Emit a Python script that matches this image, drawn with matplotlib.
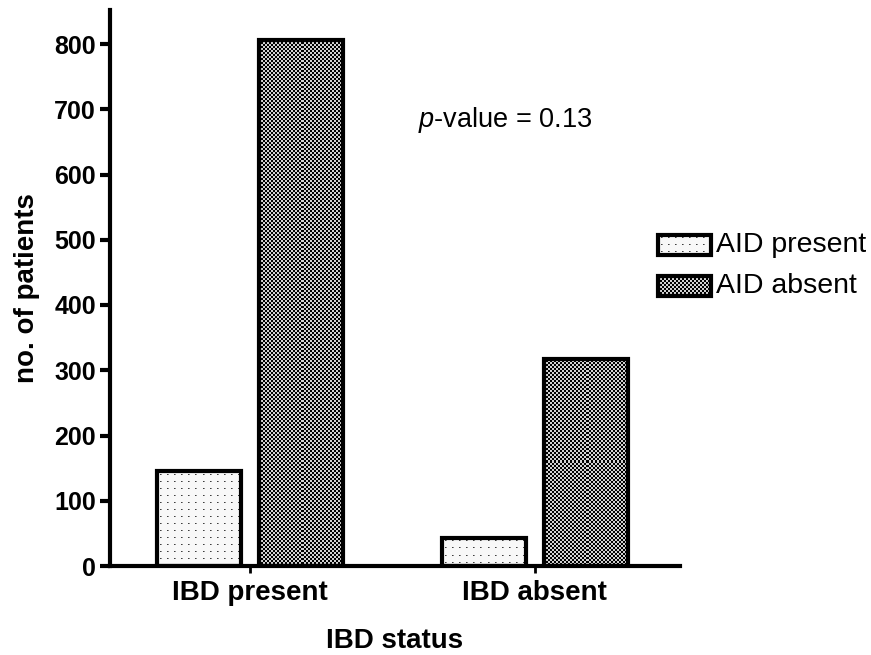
import numpy as np
import matplotlib
matplotlib.use("Agg")
import matplotlib.pyplot as plt
from matplotlib.patches import Rectangle

plt.rcParams['font.family'] = ['Liberation Sans', 'DejaVu Sans']
plt.rcParams['mathtext.fontset'] = 'custom'
plt.rcParams['mathtext.rm'] = 'Liberation Sans'
plt.rcParams['mathtext.it'] = 'Liberation Sans:italic'

# data
groups = ["IBD present", "IBD absent"]
series = ["AID present", "AID absent"]
aid_present = [145, 43]
aid_absent = [806, 318]
y_ticks = [0, 100, 200, 300, 400, 500, 600, 700, 800]
p_text = "$\\mathit{p}$-value = 0.13"

W, H, DPI = 871, 655, 100
fig = plt.figure(figsize=(W / DPI, H / DPI), dpi=DPI)
ax = fig.add_axes([110 / W, 1 - 566 / H, (680 - 110) / W, (566 - 10) / H])


def make_pattern(kind, w, h):
    w, h = max(int(round(w)), 1), max(int(round(h)), 1)
    yy, xx = np.mgrid[0:h, 0:w]
    if kind == "checker":
        arr = np.where(((xx // 2) + (yy // 2)) % 2 == 0, 0.0, 0.82)
    else:
        arr = np.full((h, w), 0.97)
        on_row = (yy % 7) == 3
        arr[on_row & ((xx % 7) == 3)] = 0.25
        arr[on_row & ((xx % 7) == 4)] = 0.55
    return arr


def pattern_fill(axis, patch, kind):
    x0, y0 = patch.get_x(), patch.get_y()
    x1, y1 = x0 + patch.get_width(), y0 + patch.get_height()
    (dx0, dy0), (dx1, dy1) = axis.transData.transform([(x0, y0), (x1, y1)])
    arr = make_pattern(kind, abs(dx1 - dx0), abs(dy1 - dy0))
    im = axis.imshow(arr, cmap="gray", vmin=0, vmax=1, extent=(x0, x1, y0, y1),
                     origin="upper", interpolation="nearest", aspect="auto", zorder=2)
    im.set_clip_path(patch)


x = np.arange(len(groups))
width = 0.295
off = 0.18
ax.set_xlim(-0.491, 1.509)
ax.set_ylim(0, (566 - 10) / 0.6525)

bars1 = ax.bar(x - off, aid_present, width, facecolor="none", edgecolor="black",
               linewidth=3, zorder=3)
bars2 = ax.bar(x + off, aid_absent, width, facecolor="none", edgecolor="black",
               linewidth=3, zorder=3)
for b in bars1:
    pattern_fill(ax, b, "dots")
for b in bars2:
    pattern_fill(ax, b, "checker")
ax.set_xlim(-0.491, 1.509)
ax.set_ylim(0, (566 - 10) / 0.6525)

for s in ["top", "right"]:
    ax.spines[s].set_visible(False)
for s in ["left", "bottom"]:
    ax.spines[s].set_linewidth(3)
ax.set_yticks(y_ticks)
ax.set_yticklabels([str(v) for v in y_ticks], fontsize=18, fontweight="bold")
ax.set_xticks(x)
ax.set_xticklabels(groups, fontsize=20, fontweight="bold")
ax.tick_params(axis="y", direction="out", length=7, width=3, pad=3)
ax.tick_params(axis="x", direction="out", length=5, width=2, pad=5)

ax.set_ylabel("no. of patients", fontsize=20, fontweight="bold", labelpad=10)
ax.set_xlabel("IBD status", fontsize=20, fontweight="bold", labelpad=16)

ax.text(0.59, (566 - 120) / 0.6525, p_text, fontsize=19.5, ha="left", va="center")

# legend drawn in pixel coordinates
lax = fig.add_axes([0, 0, 1, 1], facecolor="none")
lax.set_xlim(0, W)
lax.set_ylim(H, 0)
lax.axis("off")
for label, kind, yc in [(series[0], "dots", 245), (series[1], "checker", 286)]:
    r = Rectangle((658, yc - 10), 53, 20, facecolor="none", edgecolor="black",
                  linewidth=3, zorder=3)
    lax.add_patch(r)
    pattern_fill(lax, r, kind)
    lax.text(716, yc, label, fontsize=20.5, ha="left", va="center")
lax.set_xlim(0, W)
lax.set_ylim(H, 0)

fig.savefig("out.png", dpi=DPI)
